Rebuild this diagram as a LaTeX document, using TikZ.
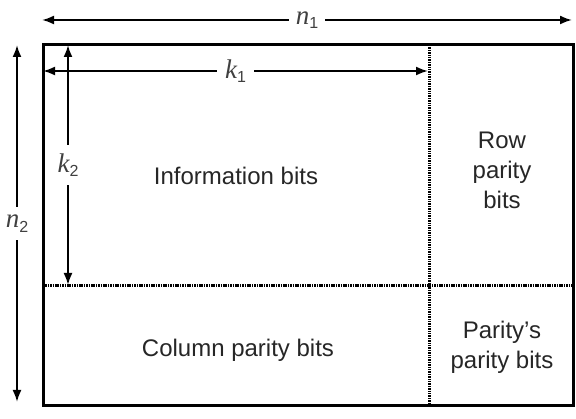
\documentclass[tikz,border=0pt]{standalone}
\usepackage{fontspec}
\setmainfont{Liberation Sans}
\newfontfamily\dimserif{Liberation Serif}
\usetikzlibrary{arrows.meta}
\newcommand{\dimname}[2]{{\dimserif\itshape\fontsize{27}{27}\selectfont #1}\raisebox{-0.35ex}{\fontsize{16}{16}\selectfont #2}}
\begin{document}
\begin{tikzpicture}[x=1pt, y=-1pt,
    dimarrow/.style={{Latex[length=12pt,width=9pt]}-{Latex[length=12pt,width=9pt]}, line width=2pt},
    divider/.style={line width=3pt, dash pattern=on 1.5pt off 0.9pt},
    lbl/.style={font=\fontsize{24}{30}\selectfont, text=black!85, align=center, inner sep=0pt},
    dimlbl/.style={font=\fontsize{24}{24}\selectfont, text=black!75, fill=white, inner sep=5pt}]
    \useasboundingbox (0,0) rectangle (576,419);
    % corners of the code block
    \coordinate (tl) at (43,45);
    \coordinate (br) at (573,406);
    \coordinate (vtop) at (429,45);
    \coordinate (vbot) at (429,406);
    \coordinate (hleft) at (43,286);
    \coordinate (hright) at (573,286);
    % dimension end points
    \coordinate (n1l) at (42,20);
    \coordinate (n1r) at (572,20);
    \coordinate (n2t) at (17,45);
    \coordinate (n2b) at (17,402);
    \coordinate (k1l) at (43,71);
    \coordinate (k1r) at (428,71);
    \coordinate (k2t) at (68,45);
    \coordinate (k2b) at (68,285);
    % block and dividers
    \draw[divider] (vtop) -- (vbot);
    \draw[divider] (hleft) -- (hright);
    \draw[line width=3pt] (tl) rectangle (br);
    % dimensions
    \draw[dimarrow] (n1l) -- (n1r) node[pos=0.5, dimlbl, inner xsep=7pt] {\dimname{n}{1}};
    \draw[dimarrow] (n2t) -- (n2b) node[pos=0.5, dimlbl, inner xsep=1pt, inner ysep=8pt] {\dimname{n}{2}};
    \draw[dimarrow] (k1l) -- (k1r) node[pos=0.5, dimlbl, inner xsep=8pt] {\dimname{k}{1}};
    \draw[dimarrow] (k2t) -- (k2b) node[pos=0.5, dimlbl, inner xsep=1pt, inner ysep=8pt] {\dimname{k}{2}};
    % regions
    \node (info) at (236,176) [lbl] {Information bits};
    \node (row) at (502,170) [lbl] {Row\\parity\\bits};
    \node (col) at (238,350) [lbl] {Column parity bits};
    \node (pp) at (502,347) [lbl] {Parity's\\parity bits};
\end{tikzpicture}
\end{document}
